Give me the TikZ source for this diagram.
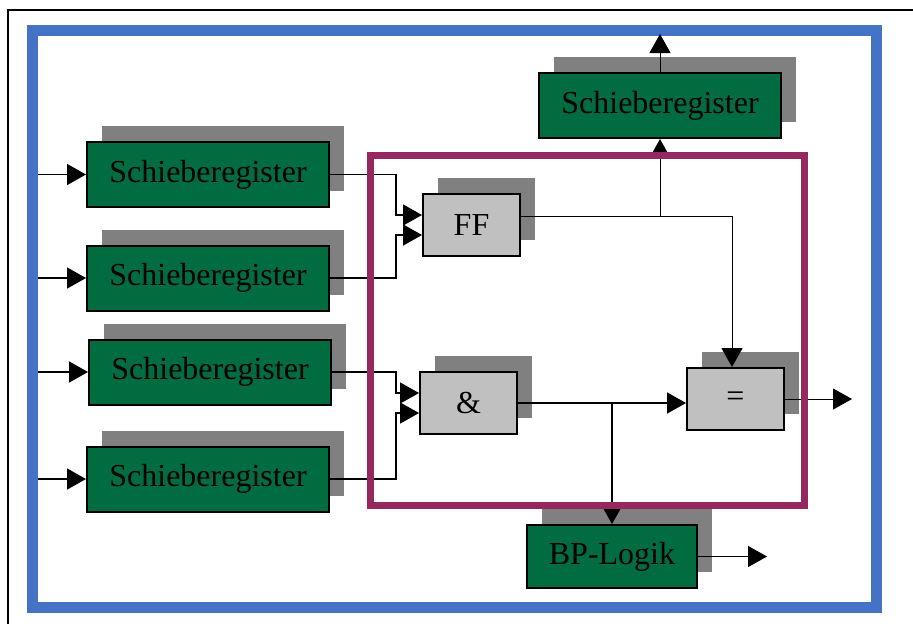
\documentclass[tikz,border=0pt]{standalone}
\usepackage{fontspec}
\setmainfont{Liberation Serif}
\usetikzlibrary{arrows.meta,shadows}

\definecolor{frameblue}{RGB}{68,114,196}
\definecolor{framepurple}{RGB}{150,40,96}
\definecolor{registergreen}{RGB}{0,108,64}
\definecolor{shadowgray}{RGB}{128,128,128}
\definecolor{gategray}{RGB}{192,192,192}

\begin{document}
\begin{tikzpicture}[x=0.5pt, y=-0.5pt,
  font=\fontsize{16}{19}\selectfont,
  block/.style={draw=black, line width=1pt, inner sep=0pt,
    general shadow={fill=shadowgray, shadow xshift=7.5pt, shadow yshift=8pt}},
  register/.style={block, fill=registergreen, minimum width=121pt, minimum height=32.5pt},
  gate/.style={block, fill=gategray, minimum width=48.5pt, minimum height=31pt},
  wire/.style={line width=0.8pt},
  thinwire/.style={line width=0.5pt},
  arrowed/.style={-{Triangle[length=9.5pt,width=10.5pt]}}
]

\clip (0,0) rectangle (913,623);

\draw[line width=1pt] (8,640) -- (8,10) -- (930,10);
\draw[frameblue, line width=5.5pt] (32.5,30) rectangle (876.5,607.5);

\node[register] (sr1) at (208,174.5) {Schieberegister};
\node[register] (sr2) at (208,278) {Schieberegister};
\node[register] (sr3) at (210,372) {Schieberegister};
\node[register] (sr4) at (208,479) {Schieberegister};
\node[register] (srout) at (660,105.5) {Schieberegister};
\node[gate] (ff) at (471.5,225) {FF};
\node[gate] (and) at (468.5,403) {\&};
\node[gate] (eq) at (735.5,399) {=};
\node[register, minimum width=85pt, minimum height=31.5pt] (bp) at (612,556.5) {BP-Logik};

\coordinate (inleft) at (38,0);
\coordinate (join) at (396,0);
\coordinate (bluetop) at (0,34);
\coordinate (eqend) at (852,0);
\coordinate (bpend) at (767,0);

% inputs
\foreach \r in {sr1,sr2,sr3,sr4}
  \draw[wire,arrowed] (inleft |- \r.west) -- (\r.west);

% registers to gates
\draw[wire,arrowed] (sr1.east) -- (sr1.east -| join) |- ([yshift=5pt]ff.west);
\draw[wire,arrowed] (sr2.east) -- (sr2.east -| join) |- ([yshift=-5pt]ff.west);
\draw[wire,arrowed] (sr3.east) -- (sr3.east -| join) |- ([yshift=5pt]and.west);
\draw[wire,arrowed] (sr4.east) -- (sr4.east -| join) |- ([yshift=-5pt]and.west);

% outputs
\coordinate (ffout) at ([yshift=4.5pt]ff.east);
\draw[thinwire,arrowed] (ffout) -| ([xshift=-1.75pt]eq.north);
\draw[thinwire,arrowed] (ffout -| srout.south) -- (srout.south);
\draw[thinwire,arrowed] (srout.north) -- (srout.north |- bluetop);
\draw[wire,arrowed] (and.east) -- (and.east -| eq.west);
\draw[wire,arrowed] (and.east -| bp.north) -- (bp.north);
\draw[thinwire,arrowed] (eq.east) -- (eq.east -| eqend);
\draw[thinwire,arrowed] (bp.east) -- (bp.east -| bpend);

\draw[framepurple, line width=3.5pt] (370.5,155) rectangle (804.5,505);

\end{tikzpicture}
\end{document}
